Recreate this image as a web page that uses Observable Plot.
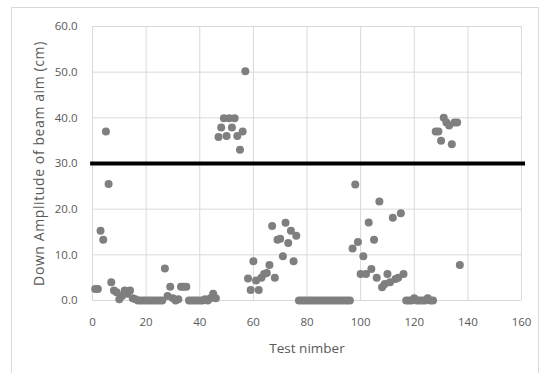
<!DOCTYPE html>
<html>
<head>
<meta charset="utf-8">
<script src="https://cdn.jsdelivr.net/npm/d3@7"></script>
<script src="https://cdn.jsdelivr.net/npm/@observablehq/plot@0.6"></script>
<style>
  html, body { margin: 0; padding: 0; background: #fff; }
  #wrap { position: relative; width: 544px; height: 373px; }
  #border { position: absolute; left: 11px; top: 7px; width: 528px; height: 370px; border: 1px solid #d9d9d9; box-sizing: border-box; pointer-events: none; }
  svg { display: block; }
</style>
</head>
<body>
<div id="wrap"><div id="border"></div></div>
<script>
const testNumber = [
  1,2,3,4,5,6,7,8,9,10,
  11,12,13,14,15,16,17,18,19,20,
  21,22,23,24,25,26,27,28,29,30,
  31,32,33,34,35,36,37,38,39,40,
  41,42,43,44,45,46,47,48,49,50,
  51,52,53,54,55,56,57,58,59,60,
  61,62,63,64,65,66,67,68,69,70,
  71,72,73,74,75,76,77,78,79,80,
  81,82,83,84,85,86,87,88,89,90,
  91,92,93,94,95,96,97,98,99,100,
  101,102,103,104,105,106,107,108,109,110,
  111,112,113,114,115,116,117,118,119,120,
  121,122,123,124,125,126,127,128,129,130,
  131,132,133,134,135,136,137
];
const amplitude = [
  2.5,2.5,15.3,13.3,37.0,25.5,4.0,2.2,1.8,0.3,
  1.0,2.2,1.5,2.2,0.5,0.3,0,0,0,0,
  0,0,0,0,0,0,7.0,1.0,3.0,0.5,
  0,0.3,3.0,3.0,3.0,0,0,0,0,0,
  0,0.3,0,0.5,1.5,0.5,35.8,37.9,39.9,36.0,
  39.9,37.9,39.9,36.0,33.0,37.0,50.2,4.8,2.3,8.6,
  4.4,2.3,5.0,5.8,6.0,7.8,16.3,5.0,13.3,13.5,
  9.7,17.0,12.6,15.3,8.6,14.2,0,0,0,0,
  0,0,0,0,0,0,0,0,0,0,
  0,0,0,0,0,0,11.4,25.4,12.8,5.8,
  9.7,5.8,17.1,6.9,13.3,5.0,21.7,2.9,3.6,5.8,
  4.0,18.1,4.7,5.0,19.1,5.8,0,0,0,0.5,
  0,0,0,0,0.5,0,0,37.0,37.0,35.0,
  40.0,39.0,38.3,34.2,39.0,39.0,7.8
];
const threshold = [30];
const xTicks = [0,20,40,60,80,100,120,140,160];
const yTicks = [0,10,20,30,40,50,60];
const xTitle = "Test nimber";
const yTitle = "Down Amplitude of beam aim (cm)";

const data = testNumber.map((t, i) => ({test: t, amp: amplitude[i]}));

const chart = Plot.plot({
  width: 544,
  height: 373,
  marginLeft: 92,
  marginRight: 23,
  marginTop: 26,
  marginBottom: 73,
  style: {fontFamily: "'Open Sans', sans-serif", fontSize: "11px", color: "#595959", background: "transparent"},
  x: {domain: [0, 160], ticks: xTicks, label: null},
  y: {domain: [0, 60], ticks: yTicks, label: null},
  marks: [
    Plot.gridX(xTicks, {stroke: "#d9d9d9", strokeOpacity: 1}),
    Plot.gridY(yTicks, {stroke: "#d9d9d9", strokeOpacity: 1}),
    Plot.axisX(xTicks, {tickSize: 0, tickPadding: 17, fontSize: 11.5, fill: "#595959", label: xTitle, labelAnchor: "center", labelArrow: "none", labelOffset: 52}),
    Plot.axisY(yTicks, {tickSize: 0, tickPadding: 15, fontSize: 11.5, fill: "#595959", tickFormat: d3.format(".1f"), label: yTitle, labelAnchor: "center", labelArrow: "none", labelOffset: 58}),
    Plot.dot(data, {x: "test", y: "amp", r: 4, fill: "#7f7f7f", stroke: "none"}),
    Plot.ruleY(threshold, {stroke: "#000", strokeWidth: 4, x1: -0.7, x2: 161.5})
  ]
});
d3.select(chart).selectAll('g[aria-label="x-axis label"] text').attr("font-size", 13.5);
d3.select(chart).selectAll('g[aria-label="y-axis label"] text').attr("font-size", 14).attr("letter-spacing", "0.6px");
document.getElementById("wrap").appendChild(chart);
</script>
</body>
</html>
